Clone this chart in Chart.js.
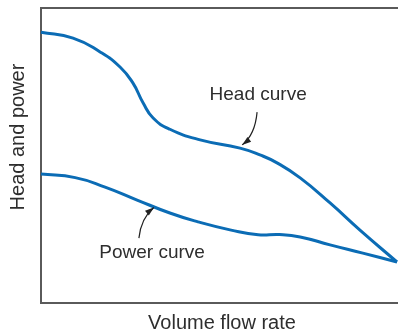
<!DOCTYPE html>
<html>
<head>
<meta charset="utf-8">
<script src="https://cdn.jsdelivr.net/npm/chart.js@4"></script>
<style>
  html, body { margin: 0; padding: 0; background: #fff; }
  #wrap { width: 398px; height: 333px; }
</style>
</head>
<body>
<div id="wrap"><canvas id="grafico"></canvas></div>
<script>
// Curva de altura (head) (0..100)
const headX = [0, 9, 16.6, 22.2, 25.8, 28.7, 31.5, 36.2, 44.7, 55.9, 61.5, 66.3, 72.8, 81.2, 89.6, 100];
const headY = [91.8, 89.8, 85.1, 80.0, 74.6, 67.8, 62.7, 58.9, 55.3, 52.5, 50.2, 47.5, 42.4, 33.9, 24.7, 13.9];

// Curva de potência
const powerX = [0, 9.6, 18, 27, 36.2, 44.1, 53.4, 61, 67, 72.8, 81.2, 90.4, 100];
const powerY = [43.7, 42.5, 39.3, 34.9, 30.5, 27.5, 24.7, 23.1, 23.2, 22.4, 19.7, 16.9, 13.9];

// Textos
const tituloX = "Volume flow rate";
const tituloY = "Head and power";
const rotulos = ["Head curve", "Power curve"];
// posição do texto e da seta (inicio, controle, ponta) em coordenadas dos dados
const rotuloPos = [[61, 70.5], [31.2, 16.9]];
const setas = [
  [[60.7, 64.7], [60.1, 56.9], [56.5, 53.6]],
  [[27.5, 22.0], [28.1, 28.8], [31.7, 32.4]]
];

const corLinha = "#0b6cb5";
const corEixo = "#5a5a5a";
const corTexto = "#2e2e2e";
const fonte = "Liberation Sans, Arial, sans-serif";

function pontos(xs, ys) {
  return xs.map((x, i) => ({ x, y: ys[i] }));
}

// Desenha rótulos, setas e títulos dos eixos
const anotacoes = {
  id: "anotacoes",
  afterDraw(chart) {
    const { ctx, chartArea, scales } = chart;
    const sx = scales.x, sy = scales.y;
    ctx.save();
    ctx.fillStyle = corTexto;
    ctx.font = "19px " + fonte;
    ctx.textAlign = "center";
    ctx.textBaseline = "middle";

    rotulos.forEach((txt, i) => {
      const [vx, vy] = rotuloPos[i];
      ctx.fillText(txt, sx.getPixelForValue(vx), sy.getPixelForValue(vy));
    });

    setas.forEach((s) => {
      const p = s.map(([vx, vy]) => [sx.getPixelForValue(vx), sy.getPixelForValue(vy)]);
      ctx.strokeStyle = "#222";
      ctx.lineWidth = 1.2;
      ctx.beginPath();
      ctx.moveTo(p[0][0], p[0][1]);
      ctx.quadraticCurveTo(p[1][0], p[1][1], p[2][0], p[2][1]);
      ctx.stroke();
      // ponta da seta
      const ang = Math.atan2(p[2][1] - p[1][1], p[2][0] - p[1][0]);
      const len = 9, larg = 3;
      ctx.fillStyle = "#222";
      ctx.beginPath();
      ctx.moveTo(p[2][0], p[2][1]);
      ctx.lineTo(p[2][0] - len * Math.cos(ang) + larg * Math.sin(ang), p[2][1] - len * Math.sin(ang) - larg * Math.cos(ang));
      ctx.lineTo(p[2][0] - len * Math.cos(ang) - larg * Math.sin(ang), p[2][1] - len * Math.sin(ang) + larg * Math.cos(ang));
      ctx.closePath();
      ctx.fill();
    });

    // títulos dos eixos
    ctx.fillStyle = corTexto;
    ctx.font = "20px " + fonte;
    ctx.fillText(tituloX, (chartArea.left + chartArea.right) / 2 + 3, 323);
    ctx.translate(18, 137);
    ctx.rotate(-Math.PI / 2);
    ctx.fillText(tituloY, 0, 0);
    ctx.restore();
  }
};

function eixo(pos) {
  return {
    type: "linear",
    position: pos,
    min: 0,
    max: 100,
    display: true,
    grid: { display: false, drawTicks: false },
    ticks: { display: false },
    border: { display: true, color: corEixo, width: 2 },
    afterFit(s) {
      if (s.isHorizontal()) s.height = 0; else s.width = 0;
    }
  };
}

new Chart(document.getElementById("grafico"), {
  type: "line",
  data: {
    datasets: [
      { label: "Head curve", data: pontos(headX, headY) },
      { label: "Power curve", data: pontos(powerX, powerY) }
    ]
  },
  options: {
    responsive: true,
    maintainAspectRatio: false,
    animation: false,
    layout: { padding: { left: 41, top: 8, right: 1, bottom: 30 } },
    elements: {
      line: { borderColor: corLinha, borderWidth: 3, tension: 0.5 },
      point: { radius: 0 }
    },
    datasets: { line: { clip: false } },
    plugins: {
      legend: { display: false },
      tooltip: { enabled: false }
    },
    scales: {
      x: eixo("bottom"),
      x2: eixo("top"),
      y: eixo("left")
    }
  },
  plugins: [anotacoes]
});
</script>
</body>
</html>
